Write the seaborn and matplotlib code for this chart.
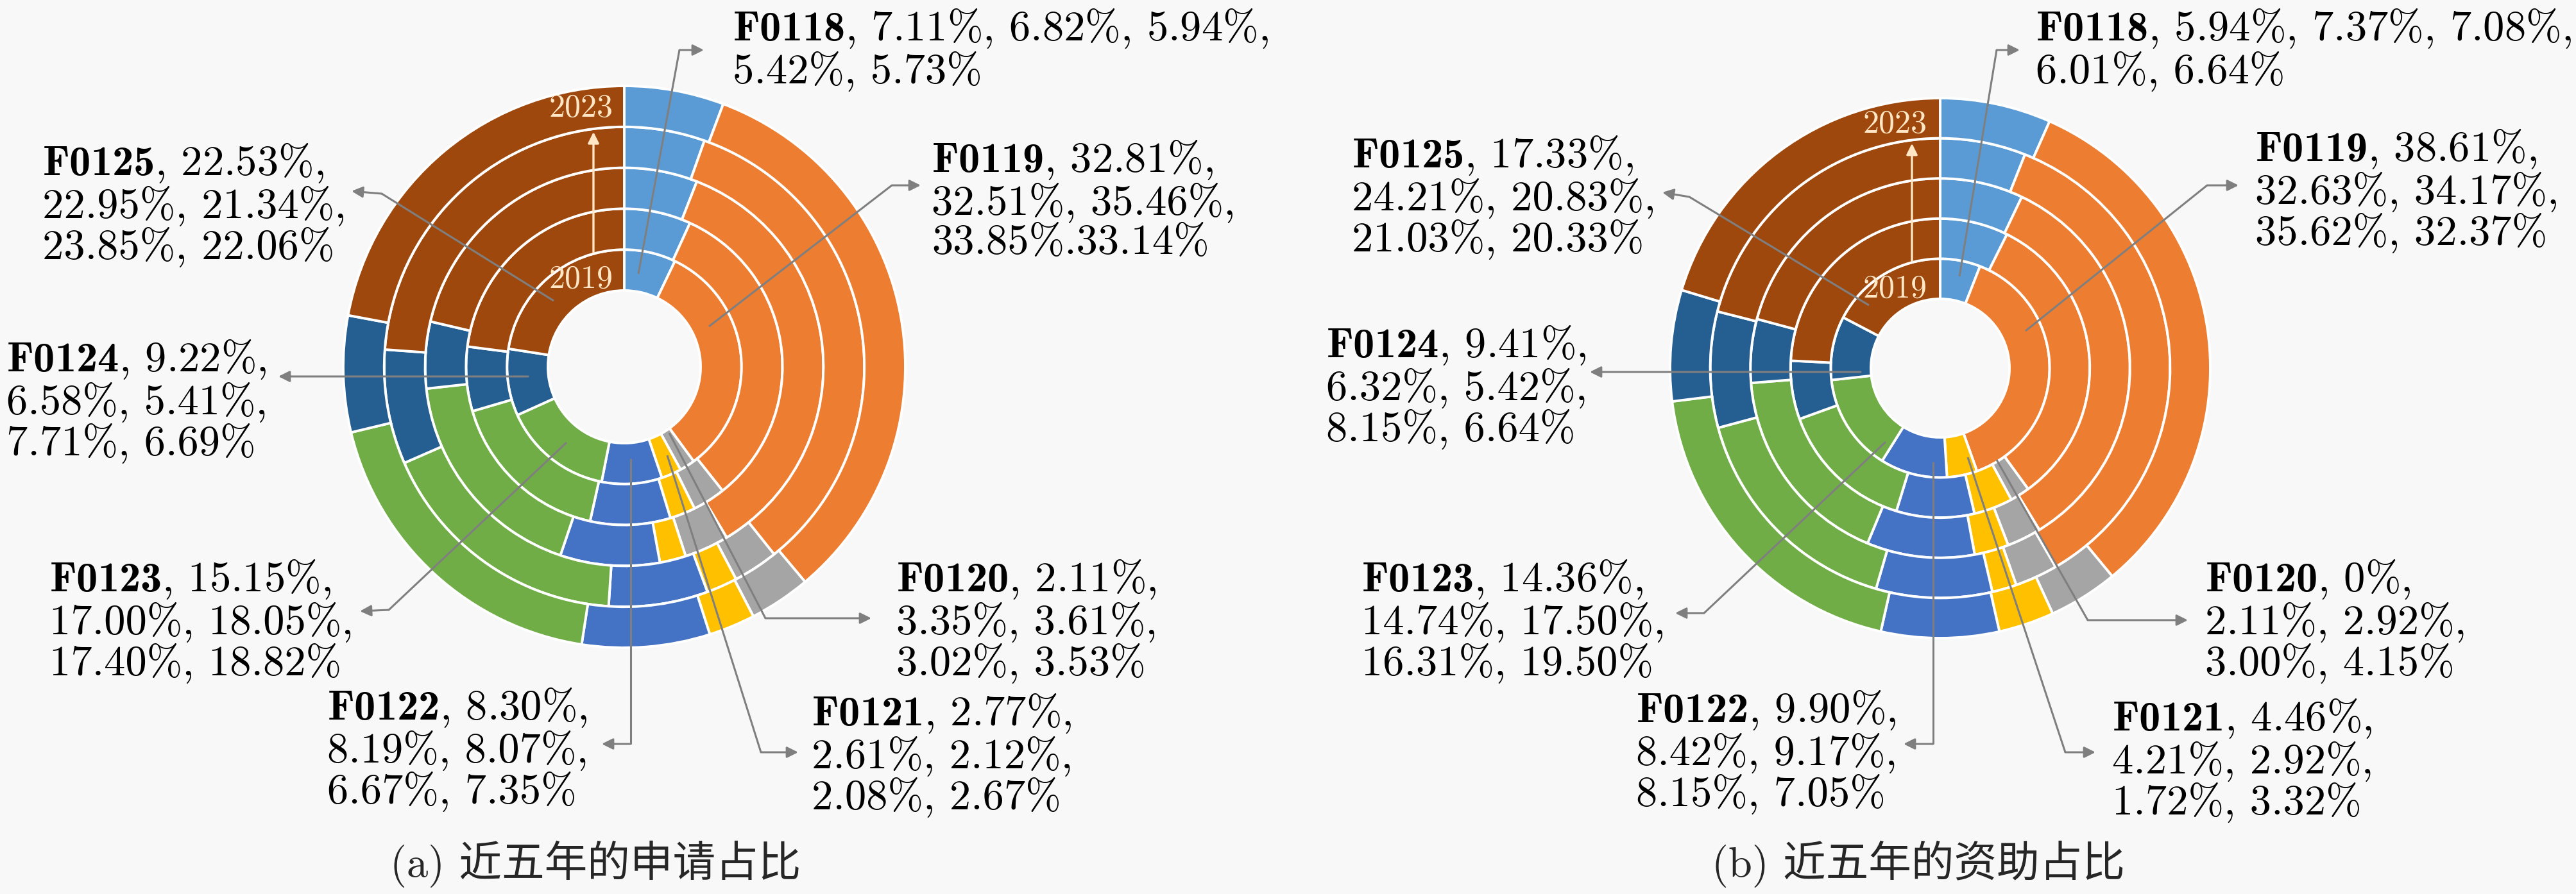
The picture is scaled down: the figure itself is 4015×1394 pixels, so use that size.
import matplotlib
matplotlib.use("Agg")
import matplotlib.pyplot as plt
import seaborn as sns

# ── データ（各学科コードの占比 %、2019→2023 の順、内側→外側のリング） ──
YEARS = ["2019", "2020", "2021", "2022", "2023"]
CODES = ["F0118", "F0119", "F0120", "F0121", "F0122", "F0123", "F0124", "F0125"]

apply_share = [
    [7.11, 6.82, 5.94, 5.42, 5.73],       # F0118
    [32.81, 32.51, 35.46, 33.85, 33.14],  # F0119
    [2.11, 3.35, 3.61, 3.02, 3.53],       # F0120
    [2.77, 2.61, 2.12, 2.08, 2.67],       # F0121
    [8.30, 8.19, 8.07, 6.67, 7.35],       # F0122
    [15.15, 17.00, 18.05, 17.40, 18.82],  # F0123
    [9.22, 6.58, 5.41, 7.71, 6.69],       # F0124
    [22.53, 22.95, 21.34, 23.85, 22.06],  # F0125
]

fund_share = [
    [5.94, 7.37, 7.08, 6.01, 6.64],       # F0118
    [38.61, 32.63, 34.17, 35.62, 32.37],  # F0119
    [0.0, 2.11, 2.92, 3.00, 4.15],        # F0120
    [4.46, 4.21, 2.92, 1.72, 3.32],       # F0121
    [9.90, 8.42, 9.17, 8.15, 7.05],       # F0122
    [14.36, 14.74, 17.50, 16.31, 19.50],  # F0123
    [9.41, 6.32, 5.42, 8.15, 6.64],       # F0124
    [17.33, 24.21, 20.83, 21.03, 20.33],  # F0125
]

CAPTIONS = ["(a) 近五年的申请占比", "(b) 近五年的资助占比"]

# Office 風の配色
PALETTE = sns.color_palette(
    ["#5B9BD5", "#ED7D31", "#A5A5A5", "#FFC000",
     "#4472C4", "#70AD47", "#255E91", "#9E480E"]
)
BG = "#F8F8F8"
LEADER = "#7F7F7F"
YEAR_COLOR = "#FFE6C4"
FS = 24

sns.set_theme(style="white")
plt.rcParams["font.family"] = ["cmr10", "Noto Sans CJK SC", "DejaVu Sans"]
plt.rcParams["mathtext.fontset"] = "custom"
plt.rcParams["mathtext.rm"] = "cmr10"
plt.rcParams["mathtext.bf"] = "cmb10"
plt.rcParams["axes.unicode_minus"] = False

# ── レイアウト（パネルごと、中心からのピクセル単位） ──
# code: (文字位置, 引出線の始点, 折れ点, 矢印先, 改行位置)
LAYOUT_A = {
    "F0118": ((169, 560), (22, 145), (86, 494), (124, 494), (3,)),
    "F0119": ((479, 355), (132, 63), (417, 283), (462, 283), (1, 3)),
    "F0120": ((424, -299), (70, -103), (220, -392), (385, -392), (1, 3)),
    "F0121": ((292, -508), (67, -138), (213, -601), (271, -601), (1, 3)),
    "F0122": ((-463, -499), (10, -143), (10, -588), (-35, -588), (1, 3)),
    "F0123": ((-896, -299), (-90, -118), (-367, -379), (-412, -381), (1, 3)),
    "F0124": ((-963, 44), (-150, -15), None, (-539, -15), (1, 3)),
    "F0125": ((-907, 350), (-110, 103), (-378, 270), (-425, 274), (1, 3)),
}
LAYOUT_B = {
    "F0118": ((149, 562), (30, 143), (88, 496), (124, 496), (3,)),
    "F0119": ((491, 374), (133, 58), (416, 285), (465, 285), (1, 3)),
    "F0120": ((413, -297), (88, -143), (230, -393), (386, -393), (1, 3)),
    "F0121": ((268, -514), (43, -139), (195, -599), (242, -599), (1, 3)),
    "F0122": ((-474, -501), (-11, -146), (-11, -586), (-57, -586), (1, 3)),
    "F0123": ((-902, -297), (-85, -115), (-368, -382), (-413, -382), (1, 3)),
    "F0124": ((-957, 68), (-124, -6), None, (-546, -6), (1, 3)),
    "F0125": ((-917, 364), (-111, 98), (-391, 267), (-433, 274), (1, 3)),
}

PANELS = [
    dict(shares=apply_share, caption=CAPTIONS[0], layout=LAYOUT_A,
         hole=119, ring=63.8, xlim=(-973, 1035), ylim=(-822, 572),
         year_xy=((-67, 403), (-67, 136)), year_arrow_x=-48,
         caption_xy=(-45, -775), sep_override={("F0119", 4): "."}),
    dict(shares=fund_share, caption=CAPTIONS[1], layout=LAYOUT_B,
         hole=108, ring=62.6, xlim=(-1016, 992), ylim=(-820, 574),
         year_xy=((-70, 380), (-70, 123)), year_arrow_x=-44,
         caption_xy=(-34, -773), sep_override={}),
]


def _fmt(v: float) -> str:
    return "0%" if v == 0 else f"{v:.2f}%"


def _label(code, values, breaks, sep_override):
    parts = [r"$\mathbf{" + code + "}$"] + [_fmt(v) for v in values]
    out = parts[0]
    for i, p in enumerate(parts[1:], start=1):
        prev = i - 1
        if (code, prev) in sep_override:
            out += sep_override[(code, prev)] + p
        elif prev in breaks:
            out += ",\n" + p
        else:
            out += ", " + p
    return out


def draw_panel(ax, cfg):
    shares = cfg["shares"]
    hole, ring = cfg["hole"], cfg["ring"]
    for i, _year in enumerate(YEARS):
        vals = [row[i] for row in shares]
        ax.pie(
            vals, radius=hole + (i + 1) * ring, colors=PALETTE,
            startangle=90, counterclock=False,
            wedgeprops=dict(width=ring, edgecolor="white", linewidth=1.4),
        )

    # 引出線とラベル
    for k, code in enumerate(CODES):
        txt_xy, start, elbow, end, breaks = cfg["layout"][code]
        tail = start
        if elbow is not None:
            ax.plot([start[0], elbow[0]], [start[1], elbow[1]],
                    color=LEADER, lw=1.1, solid_capstyle="butt", zorder=5)
            tail = elbow
        ax.annotate("", xy=end, xytext=tail,
                    arrowprops=dict(arrowstyle="-|>", color=LEADER, lw=1.1,
                                    mutation_scale=13, shrinkA=0, shrinkB=0),
                    zorder=5)
        ax.text(txt_xy[0], txt_xy[1],
                _label(code, shares[k], breaks, cfg["sep_override"]),
                ha="left", va="top", fontsize=FS, linespacing=1.03,
                color="black")

    # 年のガイド（2019 → 2023）
    (x23, y23), (x19, y19) = cfg["year_xy"]
    ax.text(x23, y23, YEARS[-1], ha="center", va="center",
            fontsize=18, color=YEAR_COLOR, zorder=6)
    ax.text(x19, y19, YEARS[0], ha="center", va="center",
            fontsize=18, color=YEAR_COLOR, zorder=6)
    ax_x = cfg["year_arrow_x"]
    ax.annotate("", xy=(ax_x, hole + 4 * ring - 8), xytext=(ax_x, hole + ring - 4),
                arrowprops=dict(arrowstyle="-|>", color=YEAR_COLOR, lw=1.2,
                                mutation_scale=13, shrinkA=0, shrinkB=0),
                zorder=6)

    cx, cy = cfg["caption_xy"]
    ax.text(cx, cy, cfg["caption"], ha="center", va="center", fontsize=FS)

    ax.set_xlim(*cfg["xlim"])
    ax.set_ylim(*cfg["ylim"])
    ax.set_aspect("equal")
    ax.axis("off")


fig = plt.figure(figsize=(20.08, 6.97), dpi=200, facecolor=BG)
ax_a = fig.add_axes([0.0, 0.0, 0.5, 1.0])
ax_b = fig.add_axes([0.5, 0.0, 0.5, 1.0])
for ax, cfg in zip((ax_a, ax_b), PANELS):
    ax.set_facecolor(BG)
    draw_panel(ax, cfg)

fig.savefig("out.png", dpi=200, facecolor=BG)
